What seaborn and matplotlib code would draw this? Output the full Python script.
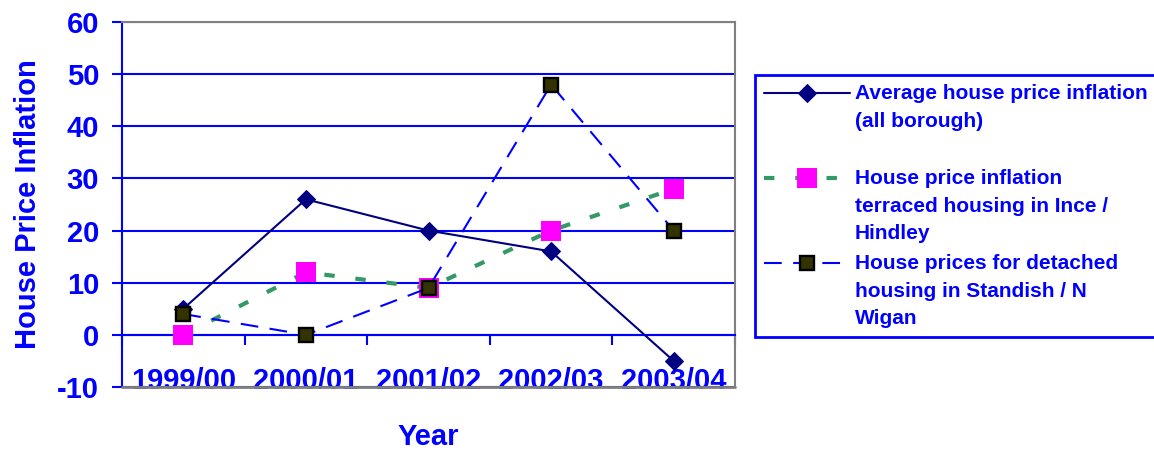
import numpy as np
import pandas as pd
import matplotlib
matplotlib.use("Agg")
import matplotlib.pyplot as plt
import seaborn as sns
from matplotlib.legend_handler import HandlerLine2D

# ---- data ----
years = ["1999/00", "2000/01", "2001/02", "2002/03", "2003/04"]
avg_all_borough = [5, 26, 20, 16, -5]
terraced_ince_hindley = [0, 12, 9, 20, 28]
detached_standish = [4, 0, 9, 48, 20]

labels = [
    "Average house price inflation\n(all borough)\n",
    "House price inflation\nterraced housing in Ince /\nHindley",
    "House prices for detached\nhousing in Standish / N\nWigan",
]
y_ticks = [-10, 0, 10, 20, 30, 40, 50, 60]

sns.set_theme(style="white")
plt.rcParams["font.family"] = ["Liberation Sans", "DejaVu Sans"]
plt.rcParams["font.weight"] = "bold"
plt.rcParams["axes.unicode_minus"] = False

BLUE = "#0000FF"
NAVY = "#000080"
GREEN = "#339966"
MAGENTA = "#FF00FF"
OLIVE = "#333300"
GRAY = "#808080"

fig = plt.figure(figsize=(11.54, 4.5), dpi=100)
ax = fig.add_axes([122 / 1154, 1 - 387 / 450, (735 - 122) / 1154, (387 - 22) / 450])

pos = np.arange(len(years))
df = pd.DataFrame({"pos": pos, "s1": avg_all_borough, "s2": terraced_ince_hindley, "s3": detached_standish})

handles = []
sns.lineplot(data=df, x="pos", y="s1", ax=ax, color=NAVY, lw=1.5, marker="D", ms=9,
             mec=NAVY, mfc=NAVY, sort=False, zorder=4)
handles.append(ax.lines[-1])
sns.lineplot(data=df, x="pos", y="s2", ax=ax, color=GREEN, lw=3, linestyle=(0, (2.5, 5)),
             marker="s", ms=15, mec=MAGENTA, mfc=MAGENTA, mew=0, sort=False, zorder=5)
handles.append(ax.lines[-1])
sns.lineplot(data=df, x="pos", y="s3", ax=ax, color=BLUE, lw=1.5, linestyle=(0, (8.5, 5.5)),
             marker="s", ms=10, mec="black", mfc=OLIVE, mew=1.7, sort=False, zorder=6)
handles.append(ax.lines[-1])

ax.set_xlim(-0.5, len(years) - 0.5)
ax.set_ylim(-10, 60)
ax.set_yticks(y_ticks)
ax.set_xticks(pos)
ax.set_xticklabels(years)
ax.set_xticks(np.arange(len(years) + 1) - 0.5, minor=True)

ax.yaxis.grid(True, color=BLUE, lw=1.5, zorder=1)
ax.xaxis.grid(False)
ax.set_axisbelow(True)

for s in ["top", "right"]:
    ax.spines[s].set_color(GRAY)
    ax.spines[s].set_linewidth(1.5)
ax.spines["left"].set_color(BLUE)
ax.spines["left"].set_linewidth(1.5)
ax.spines["bottom"].set_position(("data", 0))
ax.spines["bottom"].set_color(BLUE)
ax.spines["bottom"].set_linewidth(1.5)
ax.axhline(-10, color=GRAY, lw=2, zorder=2.6, clip_on=False)

ax.tick_params(axis="y", which="major", left=True, direction="out", length=7.5, width=1.5,
               color=BLUE, labelcolor=BLUE, labelsize=21, pad=9)
ax.tick_params(axis="x", which="major", bottom=True, length=0, labelcolor=BLUE, labelsize=21, pad=23)
ax.tick_params(axis="x", which="minor", bottom=True, direction="out", length=7.5, width=1.5, color=BLUE)

ax.set_xlabel("Year", color=BLUE, fontsize=21, fontweight="bold")
ax.set_ylabel("House Price Inflation", color=BLUE, fontsize=21, fontweight="bold")
ax.xaxis.set_label_coords(0.5, -0.098)
ax.yaxis.set_label_coords(-0.13, 0.5)


class TopAlignedHandler(HandlerLine2D):
    def __init__(self, shift, **kw):
        super().__init__(**kw)
        self.shift = shift

    def create_artists(self, legend, orig_handle, xdescent, ydescent, width, height, fontsize, trans):
        arts = super().create_artists(legend, orig_handle, xdescent, ydescent, width, height, fontsize, trans)
        for a in arts:
            a.set_ydata(np.asarray(a.get_ydata(), dtype=float) + self.shift)
        return arts


shift = 20.5
leg = fig.legend(
    handles, labels,
    loc="upper left", bbox_to_anchor=(755 / 1154, 1 - 75 / 450), bbox_transform=fig.transFigure,
    borderaxespad=0, frameon=True, fancybox=False, framealpha=1,
    handlelength=4.1, handletextpad=0.25, borderpad=0.45, labelspacing=0.55,
    labelcolor=BLUE, prop={"weight": "bold", "size": 15},
    handler_map={h: TopAlignedHandler(shift) for h in handles},
)
leg.get_frame().set_edgecolor(BLUE)
leg.get_frame().set_linewidth(2)
for t in leg.get_texts():
    t.set_linespacing(1.55)

fig.savefig("out.png", dpi=100)
